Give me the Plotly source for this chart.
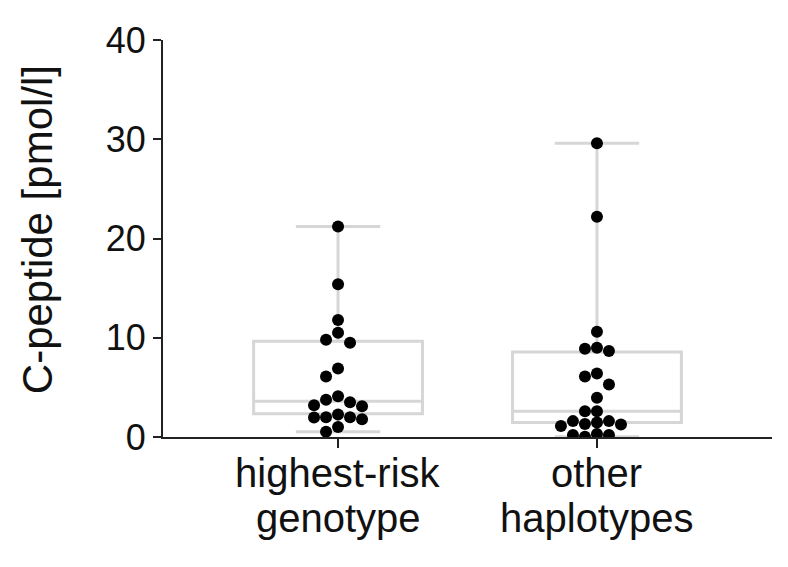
import plotly.graph_objects as go

# ---- data ----
categories = ["highest-risk genotype", "other haplotypes"]
label_lines = [["highest-risk", "genotype"], ["other", "haplotypes"]]

highest_risk = [21.2, 15.4, 11.8, 10.5, 9.5, 9.8, 6.9, 6.1, 4.1, 3.5, 3.1, 3.2,
                3.75, 2.0, 1.96, 1.8, 2.0, 2.26, 1.0, 0.53]
other_haplo = [29.6, 22.2, 10.6, 8.9, 8.66, 9.0, 6.4, 5.3, 6.1, 3.95, 2.6, 2.6,
               1.6, 1.1, 1.3, 1.26, 1.46, 1.6, 0.2, 0.03, 0.2, 0.3]

q1 = [2.35, 1.46]
median = [3.6, 2.6]
q3 = [9.65, 8.56]
lowerfence = [0.53, 0.03]
upperfence = [21.2, 29.6]

y_ticks = [0, 10, 20, 30, 40]

# ---- layout constants (page body has an 8px margin) ----
W, H = 780, 559
ML, MR, MT, MB = 155, 16, 27, 130
plot_w = W - ML - MR
plot_h = H - MT - MB
x_range = [-0.676, 1.676]
y_range = [0, 40]
px_per_x = plot_w / (x_range[1] - x_range[0])
px_per_y = plot_h / (y_range[1] - y_range[0])

DOT = 12.0


def swarm_offsets(values, diameter=DOT, step=12.0):
    """Simple deterministic beeswarm: returns x offsets in data units."""
    order = sorted(range(len(values)), key=lambda i: -values[i])
    placed = []
    offs = [0.0] * len(values)
    cands = [0.0]
    for n in range(1, 12):
        cands += [-n * step, n * step]
    for i in order:
        py = values[i] * px_per_y
        for c in cands:
            if all((ox - c) ** 2 + (oy - py) ** 2 >= (diameter * 0.95) ** 2
                   for (ox, oy) in placed):
                placed.append((c, py))
                offs[i] = c / px_per_x
                break
    return offs


fig = go.Figure()

box_color = "#d6d6d6"
fig.add_trace(go.Box(
    x=[0, 1], q1=q1, median=median, q3=q3,
    lowerfence=lowerfence, upperfence=upperfence,
    width=0.652, whiskerwidth=0.5,
    line=dict(color=box_color, width=3),
    fillcolor="rgba(0,0,0,0)",
    boxpoints=False, showlegend=False, hoverinfo="skip",
))

for gi, vals in enumerate([highest_risk, other_haplo]):
    offs = swarm_offsets(vals)
    fig.add_trace(go.Scatter(
        x=[gi + o for o in offs], y=vals, mode="markers",
        marker=dict(color="black", size=DOT, line=dict(width=0)),
        showlegend=False, hoverinfo="y",
    ))

font_family = "Liberation Sans, Arial, Helvetica, sans-serif"

annotations = []
for gi, lines in enumerate(label_lines):
    for li, txt in enumerate(lines):
        annotations.append(dict(
            x=gi, xref="x", y=0, yref="paper", yshift=-36 - 45 * li,
            text=txt, showarrow=False, xanchor="center", yanchor="middle",
            font=dict(family=font_family, size=40, color="#111"),
        ))
annotations.append(dict(
    x=0, xref="paper", xshift=-126, y=0.521, yref="paper",
    text="C-peptide [pmol/l]", textangle=-90, showarrow=False,
    xanchor="center", yanchor="middle",
    font=dict(family=font_family, size=42, color="#111"),
))

fig.update_layout(
    width=W, height=H,
    margin=dict(l=ML, r=MR, t=MT, b=MB, pad=0),
    paper_bgcolor="white", plot_bgcolor="white",
    font=dict(family=font_family, color="#111"),
    annotations=annotations,
    xaxis=dict(
        range=x_range, tickmode="array", tickvals=[0, 1], ticktext=["", ""],
        showgrid=False, zeroline=False, showline=True, linecolor="#222",
        linewidth=2, ticks="outside", ticklen=9, tickwidth=2, tickcolor="#222",
    ),
    yaxis=dict(
        range=y_range, tickmode="array", tickvals=y_ticks,
        ticktext=[str(v) for v in y_ticks],
        showgrid=False, zeroline=False, showline=True, linecolor="#222",
        linewidth=2, ticks="outside", ticklen=8, tickwidth=2, tickcolor="#222",
        tickfont=dict(family=font_family, size=36, color="#111"),
    ),
)

fig.write_html("out.html")
